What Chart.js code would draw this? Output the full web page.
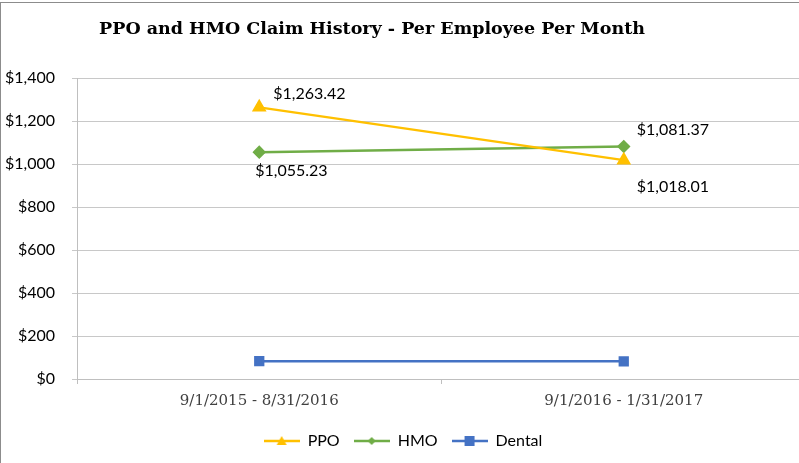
<!DOCTYPE html>
<html>
<head>
<meta charset="utf-8">
<script src="https://cdn.jsdelivr.net/npm/chart.js@4"></script>
<style>
  html, body { margin: 0; padding: 0; background: #fff; overflow: hidden; }
  #wrap { position: absolute; left: 0; top: 0; width: 820px; height: 463px; }
  #frame { position: absolute; left: 0; top: 2px; width: 830px; height: 470px; border: 1px solid #8c8c8c; box-sizing: border-box; }
</style>
</head>
<body>
<div id="frame"></div>
<div id="wrap"><canvas id="c" width="820" height="463"></canvas></div>
<script>
const categories = ["9/1/2015 - 8/31/2016", "9/1/2016 - 1/31/2017"];
const ppo = [1263.42, 1018.01];
const hmo = [1055.23, 1081.37];
const dental = [83, 82];
const yTicks = [0, 200, 400, 600, 800, 1000, 1200, 1400];
const titleText = "PPO and HMO Claim History - Per Employee Per Month";

const COLORS = { ppo: "#FFC000", hmo: "#70AD47", dental: "#4472C4" };
const LABEL_FONT = "Lato";

function legendIcon(color, style) {
  const c = document.createElement("canvas");
  c.width = 36; c.height = 12;
  const x = c.getContext("2d");
  x.strokeStyle = color; x.lineWidth = 2.5;
  x.beginPath(); x.moveTo(0, 6); x.lineTo(36, 6); x.stroke();
  x.fillStyle = color;
  x.beginPath();
  if (style === "tri") { x.moveTo(18, 1); x.lineTo(23, 10); x.lineTo(13, 10); x.closePath(); }
  else if (style === "dia") { x.moveTo(18, 2); x.lineTo(22, 6); x.lineTo(18, 10); x.lineTo(14, 6); x.closePath(); }
  else { x.rect(13, 1, 10, 10); }
  x.fill();
  return c;
}

const money = v => "$" + v.toLocaleString("en-US", { minimumFractionDigits: 2, maximumFractionDigits: 2 });
const moneyTick = v => "$" + Math.round(v).toLocaleString("en-US");

// label offsets (style, not data): [dx, dy] relative to point, text left-aligned
const labelOffsets = {
  0: [[14, -14], [13, 27]],
  1: [[-4, 19], [13, -17]]
};

const titlePlugin = {
  id: "customTitle",
  afterDraw(chart) {
    const ctx = chart.ctx;
    ctx.save();
    ctx.font = "bold 17.5px 'DejaVu Serif'";
    ctx.fillStyle = "#000";
    ctx.textAlign = "center";
    ctx.textBaseline = "middle";
    ctx.fillText(titleText, 372, 29);
    ctx.restore();
  }
};

const labelPlugin = {
  id: "valueLabels",
  afterDatasetsDraw(chart) {
    const ctx = chart.ctx;
    ctx.save();
    ctx.font = "16px " + LABEL_FONT;
    ctx.fillStyle = "#000";
    ctx.textAlign = "left";
    ctx.textBaseline = "middle";
    Object.keys(labelOffsets).forEach(di => {
      const meta = chart.getDatasetMeta(+di);
      const ds = chart.data.datasets[+di];
      meta.data.forEach((pt, i) => {
        const [dx, dy] = labelOffsets[di][i];
        ctx.fillText(money(ds.data[i]), pt.x + dx, pt.y + dy);
      });
    });
    ctx.restore();
  }
};

new Chart(document.getElementById("c"), {
  type: "line",
  data: {
    labels: categories,
    datasets: [
      { label: "PPO", data: ppo, borderColor: COLORS.ppo, backgroundColor: COLORS.ppo, borderWidth: 2.5,
        pointStyle: "triangle", pointRadius: 6, pointHoverRadius: 6, legendIcon: legendIcon(COLORS.ppo, "tri") },
      { label: "HMO", data: hmo, borderColor: COLORS.hmo, backgroundColor: COLORS.hmo, borderWidth: 2.5,
        pointStyle: "rectRot", pointRadius: 5, pointHoverRadius: 5, legendIcon: legendIcon(COLORS.hmo, "dia") },
      { label: "Dental", data: dental, borderColor: COLORS.dental, backgroundColor: COLORS.dental, borderWidth: 2.5,
        pointStyle: "rect", pointRadius: 5.5, pointHoverRadius: 5.5, legendIcon: legendIcon(COLORS.dental, "sq") }
    ]
  },
  options: {
    responsive: false,
    animation: false,
    layout: { padding: { top: 78, left: 0, right: 14, bottom: 4 } },
    plugins: {
      tooltip: { enabled: false },
      title: { display: false },
      legend: {
        position: "bottom",
        labels: {
          usePointStyle: true,
          pointStyleWidth: 36,
          padding: 14,
          color: "#000",
          font: { family: LABEL_FONT, size: 16 },
          generateLabels(chart) {
            return chart.data.datasets.map((ds, i) => ({
              text: ds.label, pointStyle: ds.legendIcon, fillStyle: ds.borderColor,
              strokeStyle: ds.borderColor, lineWidth: 0, hidden: false, datasetIndex: i, fontColor: "#000"
            }));
          }
        }
      }
    },
    scales: {
      x: {
        offset: true,
        grid: { display: true, drawOnChartArea: false, drawTicks: true, tickLength: 5, offset: true, color: "#bfbfbf" },
        border: { display: true, color: "#bfbfbf", width: 1 },
        ticks: { color: "#404040", font: { family: "DejaVu Serif", size: 15 }, padding: 8, maxRotation: 0 },
        afterFit(scale) { scale.height = 40; }
      },
      y: {
        min: 0, max: 1400,
        afterBuildTicks(scale) { scale.ticks = yTicks.map(v => ({ value: v })); },
        grid: { color: "#c8c8c8", tickLength: 5, drawTicks: true },
        border: { display: true, color: "#bfbfbf", width: 1 },
        ticks: { color: "#000", font: { family: LABEL_FONT, size: 16 }, padding: 17, callback: v => moneyTick(v) },
        afterFit(scale) { scale.width = 77; }
      }
    }
  },
  plugins: [titlePlugin, labelPlugin]
});
</script>
</body>
</html>
